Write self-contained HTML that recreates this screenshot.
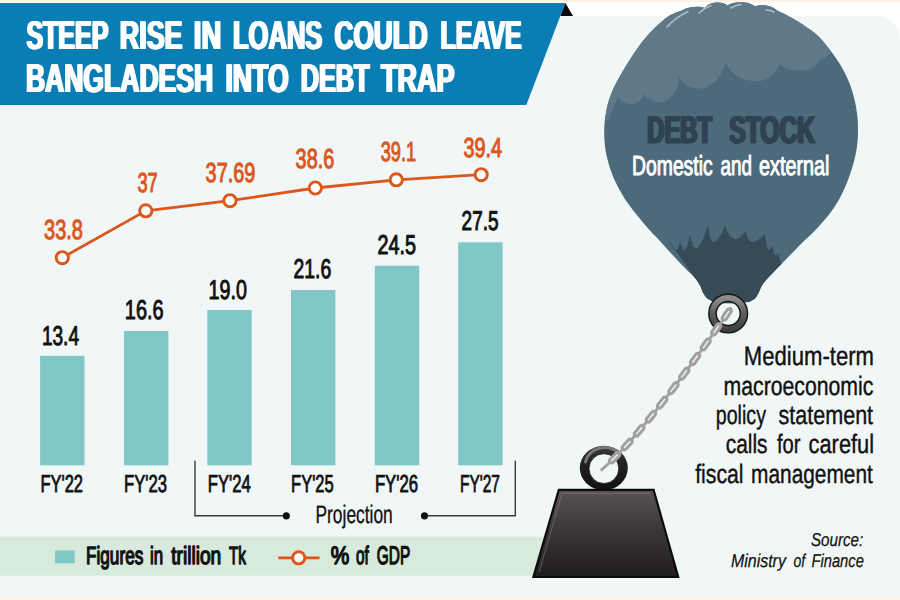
<!DOCTYPE html>
<html lang="en">
<head>
<meta charset="utf-8">
<title>Steep rise in loans could leave Bangladesh into debt trap</title>
<style>
html,body{margin:0;padding:0;background:#fff;}
body{width:900px;height:600px;overflow:hidden;}
svg{display:block;font-family:"Liberation Sans",sans-serif;text-rendering:geometricPrecision;}
</style>
</head>
<body>
<svg width="900" height="600" viewBox="0 0 900 600">
<defs>
<linearGradient id="wg" x1="0" y1="0" x2="0" y2="1">
<stop offset="0" stop-color="#595453"/><stop offset="0.5" stop-color="#393535"/><stop offset="1" stop-color="#201d1d"/>
</linearGradient>
<linearGradient id="tg" x1="0" y1="0" x2="0" y2="1"><stop offset="0" stop-color="#8d8d8d"/><stop offset="0.5" stop-color="#5e5e5e"/><stop offset="1" stop-color="#414141"/></linearGradient>
<linearGradient id="rg" x1="0" y1="0" x2="0" y2="1">
<stop offset="0" stop-color="#3c3a3a"/><stop offset="0.4" stop-color="#222020"/><stop offset="1" stop-color="#121111"/>
</linearGradient>
<filter id="hb" x="-5%" y="-20%" width="110%" height="140%"><feOffset in="SourceGraphic" dx="-1.2" dy="0" result="a"/><feOffset in="SourceGraphic" dx="1.2" dy="0" result="b"/><feMerge><feMergeNode in="a"/><feMergeNode in="b"/><feMergeNode in="SourceGraphic"/></feMerge></filter>
<clipPath id="bc"><path d="M714,302 C712.9,301.4 709.2,299.9 707.5,298.5 C705.8,297.1 704.8,295.7 703.5,293.5 C702.2,291.3 701.5,288.2 700,285.5 C698.5,282.8 697.8,281.2 694.5,277.5 C691.2,273.8 685.8,269.1 680,263 C674.2,256.9 665.1,246.5 660,241 C654.9,235.5 653.6,234.6 649.5,230 C645.4,225.4 639.8,218.9 635.5,213.3 C631.2,207.8 627.0,202.2 623.5,196.7 C620.0,191.1 617.0,185.6 614.5,180 C612.0,174.4 610.1,168.9 608.5,163.3 C606.9,157.8 605.7,152.2 605,146.7 C604.3,141.1 604.1,135.3 604.2,130 C604.3,124.7 604.8,120.0 605.6,115 C606.4,110.0 607.3,105.3 609,100 C610.7,94.7 613.2,88.8 616,83.3 C618.8,77.8 622.1,72.2 625.5,66.7 C628.9,61.2 632.3,55.6 636.3,50 C640.3,44.4 644.3,38.8 649.5,33.3 C654.7,27.8 661.8,21.0 667.5,17 C673.2,13.0 681.2,10.8 684,9.5 C689,6.5 700,6 705,8 C709,1.5 723,1 727.5,5.5 C733,1 750,1 755,6.5 C760,4 772,5 777,10.5 C779.5,11.8 785.7,14.2 792,18 C798.3,21.8 808.7,28.0 815,33.3 C821.3,38.6 825.6,44.4 830,50 C834.4,55.6 838.2,61.2 841.5,66.7 C844.8,72.2 847.3,77.8 849.5,83.3 C851.7,88.8 853.3,94.7 854.6,100 C855.9,105.3 856.6,110.0 857.2,115 C857.8,120.0 858.0,124.7 858,130 C858.0,135.3 857.8,141.1 857,146.7 C856.2,152.2 855.0,157.8 853.5,163.3 C852.0,168.9 850.2,174.4 848,180 C845.8,185.6 843.5,191.1 840.5,196.7 C837.5,202.2 834.2,207.8 830,213.3 C825.8,218.9 820.2,225.1 815.5,230 C810.8,234.9 807.8,237.2 802,243 C796.2,248.8 786.2,259.1 780.5,265 C774.8,270.9 770.6,275.1 767.5,278.5 C764.4,281.9 763.5,283.1 762,285.5 C760.5,287.9 759.7,290.8 758.5,293 C757.3,295.2 756.6,297.0 755,298.5 C753.4,300.0 750.0,301.4 749,302 Q731,305 714,302 Z"/></clipPath>
</defs>

<rect x="0" y="0" width="900" height="600" fill="#ffffff"/>
<rect x="0" y="0" width="900" height="1.9" fill="#fdf1e6"/>
<path d="M0,16 H878 A22,25 0 0 1 900,41 V596.2 H0 Z" fill="#f1f7f7"/>
<rect x="0" y="596.2" width="900" height="3.8" fill="#faf5ed"/>
<rect x="0" y="536.5" width="560" height="39.2" fill="#d7eadb"/>
<polygon points="0,3 565.3,3 526.3,105.1 0,105.1" fill="#0b7db5"/>
<polygon points="565.4,3 573,16 560.4,16" fill="#0a0a0a"/>
<text x="26.38" y="49" font-size="40.2" fill="#ffffff" textLength="81.92" lengthAdjust="spacingAndGlyphs" font-weight="700" filter="url(#hb)">STEEP</text>
<text x="119.76" y="49" font-size="40.2" fill="#ffffff" textLength="62.78" lengthAdjust="spacingAndGlyphs" font-weight="700" filter="url(#hb)">RISE</text>
<text x="193.84" y="49" font-size="40.2" fill="#ffffff" textLength="27.34" lengthAdjust="spacingAndGlyphs" font-weight="700" filter="url(#hb)">IN</text>
<text x="232.93" y="49" font-size="40.2" fill="#ffffff" textLength="89.48" lengthAdjust="spacingAndGlyphs" font-weight="700" filter="url(#hb)">LOANS</text>
<text x="334.45" y="49" font-size="40.2" fill="#ffffff" textLength="93.32" lengthAdjust="spacingAndGlyphs" font-weight="700" filter="url(#hb)">COULD</text>
<text x="440.56" y="49" font-size="40.2" fill="#ffffff" textLength="81.03" lengthAdjust="spacingAndGlyphs" font-weight="700" filter="url(#hb)">LEAVE</text>
<text x="25.88" y="92" font-size="40.2" fill="#ffffff" textLength="187.26" lengthAdjust="spacingAndGlyphs" font-weight="700" filter="url(#hb)">BANGLADESH</text>
<text x="225.47" y="92" font-size="40.2" fill="#ffffff" textLength="63.16" lengthAdjust="spacingAndGlyphs" font-weight="700" filter="url(#hb)">INTO</text>
<text x="300.74" y="92" font-size="40.2" fill="#ffffff" textLength="68.77" lengthAdjust="spacingAndGlyphs" font-weight="700" filter="url(#hb)">DEBT</text>
<text x="381.00" y="92" font-size="40.2" fill="#ffffff" textLength="73.44" lengthAdjust="spacingAndGlyphs" font-weight="700" filter="url(#hb)">TRAP</text>
<rect x="40.1" y="355.8" width="44.4" height="109.5" fill="#80c7c6"/>
<rect x="124.0" y="331" width="44.4" height="134.3" fill="#80c7c6"/>
<rect x="207.3" y="310" width="44.4" height="155.3" fill="#80c7c6"/>
<rect x="291.0" y="290" width="44.4" height="175.3" fill="#80c7c6"/>
<rect x="374.8" y="265.7" width="44.4" height="199.6" fill="#80c7c6"/>
<rect x="458.2" y="242.3" width="44.4" height="223.0" fill="#80c7c6"/>
<text x="41.89" y="344.5" font-size="27.1" fill="#111111" textLength="37.16" lengthAdjust="spacingAndGlyphs" stroke="#111111" stroke-width="1.0" stroke-linejoin="round">13.4</text>
<text x="124.83" y="318.6" font-size="27.1" fill="#111111" textLength="38.75" lengthAdjust="spacingAndGlyphs" stroke="#111111" stroke-width="1.0" stroke-linejoin="round">16.6</text>
<text x="208.55" y="298.6" font-size="27.1" fill="#111111" textLength="38.30" lengthAdjust="spacingAndGlyphs" stroke="#111111" stroke-width="1.0" stroke-linejoin="round">19.0</text>
<text x="293.59" y="277.6" font-size="27.1" fill="#111111" textLength="37.68" lengthAdjust="spacingAndGlyphs" stroke="#111111" stroke-width="1.0" stroke-linejoin="round">21.6</text>
<text x="377.57" y="254.3" font-size="27.1" fill="#111111" textLength="38.41" lengthAdjust="spacingAndGlyphs" stroke="#111111" stroke-width="1.0" stroke-linejoin="round">24.5</text>
<text x="461.60" y="230.3" font-size="27.1" fill="#111111" textLength="36.95" lengthAdjust="spacingAndGlyphs" stroke="#111111" stroke-width="1.0" stroke-linejoin="round">27.5</text>
<text x="40.41" y="492.2" font-size="24.6" fill="#111111" textLength="42.60" lengthAdjust="spacingAndGlyphs" stroke="#111111" stroke-width="0.9" stroke-linejoin="round">FY'22</text>
<text x="124.10" y="492.2" font-size="24.6" fill="#111111" textLength="42.91" lengthAdjust="spacingAndGlyphs" stroke="#111111" stroke-width="0.9" stroke-linejoin="round">FY'23</text>
<text x="207.79" y="492.2" font-size="24.6" fill="#111111" textLength="43.01" lengthAdjust="spacingAndGlyphs" stroke="#111111" stroke-width="0.9" stroke-linejoin="round">FY'24</text>
<text x="291.11" y="492.2" font-size="24.6" fill="#111111" textLength="42.60" lengthAdjust="spacingAndGlyphs" stroke="#111111" stroke-width="0.9" stroke-linejoin="round">FY'25</text>
<text x="374.89" y="492.2" font-size="24.6" fill="#111111" textLength="43.12" lengthAdjust="spacingAndGlyphs" stroke="#111111" stroke-width="0.9" stroke-linejoin="round">FY'26</text>
<text x="459.99" y="492.2" font-size="24.6" fill="#111111" textLength="39.99" lengthAdjust="spacingAndGlyphs" stroke="#111111" stroke-width="0.9" stroke-linejoin="round">FY'27</text>
<polyline fill="none" stroke="#db571c" stroke-width="2.8" points="62.3,257.7 145.8,210.8 230,200.7 315.3,188 396.3,179.8 481.2,174.7"/>
<circle cx="62.3" cy="257.7" r="6.1" fill="#ffffff" stroke="#db571c" stroke-width="2.9"/>
<circle cx="145.8" cy="210.8" r="6.1" fill="#ffffff" stroke="#db571c" stroke-width="2.9"/>
<circle cx="230" cy="200.7" r="6.1" fill="#ffffff" stroke="#db571c" stroke-width="2.9"/>
<circle cx="315.3" cy="188" r="6.1" fill="#ffffff" stroke="#db571c" stroke-width="2.9"/>
<circle cx="396.3" cy="179.8" r="6.1" fill="#ffffff" stroke="#db571c" stroke-width="2.9"/>
<circle cx="481.2" cy="174.7" r="6.1" fill="#ffffff" stroke="#db571c" stroke-width="2.9"/>
<text x="44.02" y="239.0" font-size="27.4" fill="#db571c" textLength="38.90" lengthAdjust="spacingAndGlyphs" stroke="#db571c" stroke-width="1.1" stroke-linejoin="round">33.8</text>
<text x="137.38" y="192.3" font-size="27.4" fill="#db571c" textLength="20.40" lengthAdjust="spacingAndGlyphs" stroke="#db571c" stroke-width="1.1" stroke-linejoin="round">37</text>
<text x="205.62" y="181.5" font-size="27.4" fill="#db571c" textLength="49.72" lengthAdjust="spacingAndGlyphs" stroke="#db571c" stroke-width="1.1" stroke-linejoin="round">37.69</text>
<text x="295.62" y="168.10000000000002" font-size="27.4" fill="#db571c" textLength="38.70" lengthAdjust="spacingAndGlyphs" stroke="#db571c" stroke-width="1.1" stroke-linejoin="round">38.6</text>
<text x="380.69" y="160.60000000000002" font-size="27.4" fill="#db571c" textLength="35.38" lengthAdjust="spacingAndGlyphs" stroke="#db571c" stroke-width="1.1" stroke-linejoin="round">39.1</text>
<text x="463.53" y="156.5" font-size="27.4" fill="#db571c" textLength="38.59" lengthAdjust="spacingAndGlyphs" stroke="#db571c" stroke-width="1.1" stroke-linejoin="round">39.4</text>
<path d="M195,460.8 V515.8 H286" fill="none" stroke="#3a3a3a" stroke-width="1.4"/>
<path d="M515.3,460.8 V515.8 H424.5" fill="none" stroke="#3a3a3a" stroke-width="1.4"/>
<circle cx="286.3" cy="515.8" r="3.6" fill="#111"/><circle cx="424.5" cy="515.8" r="3.6" fill="#111"/>
<text x="315.50" y="522.8" font-size="25.2" fill="#111111" textLength="77.22" lengthAdjust="spacingAndGlyphs" stroke="#111111" stroke-width="0.35" stroke-linejoin="round">Projection</text>
<rect x="55" y="550.5" width="19.7" height="12.8" fill="#80c7c6"/>
<text x="86.01" y="564.3" font-size="24.8" fill="#111111" textLength="57.26" lengthAdjust="spacingAndGlyphs" stroke="#111111" stroke-width="1.4" stroke-linejoin="round">Figures</text>
<text x="150.02" y="564.3" font-size="24.8" fill="#111111" textLength="13.12" lengthAdjust="spacingAndGlyphs" stroke="#111111" stroke-width="1.4" stroke-linejoin="round">in</text>
<text x="171.20" y="564.3" font-size="24.8" fill="#111111" textLength="50.01" lengthAdjust="spacingAndGlyphs" stroke="#111111" stroke-width="1.4" stroke-linejoin="round">trillion</text>
<text x="229.00" y="564.3" font-size="24.8" fill="#111111" textLength="16.93" lengthAdjust="spacingAndGlyphs" stroke="#111111" stroke-width="1.4" stroke-linejoin="round">Tk</text>
<line x1="278.3" y1="557.8" x2="319.5" y2="557.8" stroke="#db571c" stroke-width="2.8"/>
<circle cx="298.7" cy="557.8" r="6.1" fill="#fff" stroke="#db571c" stroke-width="2.9"/>
<text x="330.70" y="564.3" font-size="25.4" fill="#111111" textLength="18.57" lengthAdjust="spacingAndGlyphs" stroke="#111111" stroke-width="1.4" stroke-linejoin="round">%</text>
<text x="355.89" y="564.3" font-size="25.4" fill="#111111" textLength="12.83" lengthAdjust="spacingAndGlyphs" stroke="#111111" stroke-width="1.4" stroke-linejoin="round">of</text>
<text x="376.79" y="564.3" font-size="25.4" fill="#111111" textLength="33.37" lengthAdjust="spacingAndGlyphs" stroke="#111111" stroke-width="1.4" stroke-linejoin="round">GDP</text>
<g clip-path="url(#bc)">
<rect x="590" y="0" width="280" height="310" fill="#4d6a7a"/>
<path d="M590,0 H870 V51 L831,51 C828,58 823,60 820,59 C817,68 808,72 801,70.5 C795,71 784,70 780,64 C776,76 764,82 755,81 C742,81 730,74 725.5,62 C722,78 710,89 699,88.5 C690,88.5 681,83 678.5,75 C679,82 678,88 675.5,90 C673,98 666,102 660,102 C654,102 647,99 644.5,93.5 C642,101 636,104.5 630,104 C625,104 620,101 618,96.5 C615,105 611,112 608,120 L590,125 Z" fill="#607989"/>
<path d="M669,241 Q677.5,259.0 680,241 Q685.0,262.5 690,234 Q695.0,266.5 708,225 Q711.5,258.7 725,225.6 Q732.5,249.7 746,231 Q748.5,251.5 765,234 Q767.5,258.5 772,245 Q775.0,261.0 778,253 Q780,260 782,264 L792,262 L763,290 L757,302 L707,302 L694,277 Z" fill="#364a58"/>
<path d="M667,27 Q676,17 688,11.5" fill="none" stroke="#aebcc6" stroke-width="1.5" stroke-linecap="round"/>
<path d="M699,13 Q704,8 711,5.5" fill="none" stroke="#aebcc6" stroke-width="1.5" stroke-linecap="round"/>
<path d="M731,8 Q736,5 741,4.5" fill="none" stroke="#aebcc6" stroke-width="1.5" stroke-linecap="round"/>
<path d="M766,10 Q770,10 774,12" fill="none" stroke="#aebcc6" stroke-width="1.5" stroke-linecap="round"/>
</g>
<text x="647.26" y="142.7" font-size="38.3" fill="#2e4352" textLength="64.79" lengthAdjust="spacingAndGlyphs" font-weight="700" filter="url(#hb)" stroke="#2e4352" stroke-width="0.6" stroke-linejoin="round">DEBT</text>
<text x="729.36" y="142.7" font-size="38.3" fill="#2e4352" textLength="85.62" lengthAdjust="spacingAndGlyphs" font-weight="700" filter="url(#hb)" stroke="#2e4352" stroke-width="0.6" stroke-linejoin="round">STOCK</text>
<text x="632.09" y="175.2" font-size="27.5" fill="#ffffff" textLength="80.53" lengthAdjust="spacingAndGlyphs" stroke="#ffffff" stroke-width="1.0" stroke-linejoin="round">Domestic</text>
<text x="720.61" y="175.2" font-size="27.5" fill="#ffffff" textLength="31.47" lengthAdjust="spacingAndGlyphs" stroke="#ffffff" stroke-width="1.0" stroke-linejoin="round">and</text>
<text x="758.98" y="175.2" font-size="27.5" fill="#ffffff" textLength="70.52" lengthAdjust="spacingAndGlyphs" stroke="#ffffff" stroke-width="1.0" stroke-linejoin="round">external</text>
<circle cx="728.2" cy="313.5" r="15.7" fill="none" stroke="#161616" stroke-width="8.8"/>
<circle cx="728.2" cy="313.5" r="15.7" fill="none" stroke="url(#tg)" stroke-width="5.8"/>
<ellipse cx="603.8" cy="468" rx="24" ry="22.2" fill="url(#rg)"/>
<path d="M585.5,462 A19.5,18 0 0 1 619,453.5" fill="none" stroke="#8a8787" stroke-width="3" stroke-linecap="round" opacity="0.8"/>
<circle cx="603.9" cy="468.6" r="14.9" fill="#f1f7f7" stroke="#0e0e0e" stroke-width="0.8"/>
<path d="M731.5,307.5 Q645,433 600.8,470.5" fill="none" stroke="#a3a09e" stroke-width="3"/>
<rect x="-6.2" y="-2.2" width="12.4" height="4.4" rx="2.2" ry="2.2" fill="#f1f7f7" stroke="#a3a09e" stroke-width="3.0" transform="translate(726.7,314.5) rotate(124.7)"/>
<rect x="-6.2" y="-2.2" width="12.4" height="4.4" rx="2.2" ry="2.2" fill="#f1f7f7" stroke="#a3a09e" stroke-width="3.0" transform="translate(716.2,329.4) rotate(125.1)"/>
<rect x="-6.2" y="-2.2" width="12.4" height="4.4" rx="2.2" ry="2.2" fill="#f1f7f7" stroke="#a3a09e" stroke-width="3.0" transform="translate(705.7,344.3) rotate(125.5)"/>
<rect x="-6.2" y="-2.2" width="12.4" height="4.4" rx="2.2" ry="2.2" fill="#f1f7f7" stroke="#a3a09e" stroke-width="3.0" transform="translate(695.1,359.0) rotate(126.1)"/>
<rect x="-6.2" y="-2.2" width="12.4" height="4.4" rx="2.2" ry="2.2" fill="#f1f7f7" stroke="#a3a09e" stroke-width="3.0" transform="translate(684.3,373.7) rotate(126.6)"/>
<rect x="-6.2" y="-2.2" width="12.4" height="4.4" rx="2.2" ry="2.2" fill="#f1f7f7" stroke="#a3a09e" stroke-width="3.0" transform="translate(673.4,388.2) rotate(127.3)"/>
<rect x="-6.2" y="-2.2" width="12.4" height="4.4" rx="2.2" ry="2.2" fill="#f1f7f7" stroke="#a3a09e" stroke-width="3.0" transform="translate(662.2,402.6) rotate(128.1)"/>
<rect x="-6.2" y="-2.2" width="12.4" height="4.4" rx="2.2" ry="2.2" fill="#f1f7f7" stroke="#a3a09e" stroke-width="3.0" transform="translate(650.9,416.8) rotate(129.2)"/>
<rect x="-6.2" y="-2.2" width="12.4" height="4.4" rx="2.2" ry="2.2" fill="#f1f7f7" stroke="#a3a09e" stroke-width="3.0" transform="translate(639.2,430.8) rotate(130.5)"/>
<rect x="-6.2" y="-2.2" width="12.4" height="4.4" rx="2.2" ry="2.2" fill="#f1f7f7" stroke="#a3a09e" stroke-width="3.0" transform="translate(627.2,444.5) rotate(132.4)"/>
<rect x="-6.2" y="-2.2" width="12.4" height="4.4" rx="2.2" ry="2.2" fill="#f1f7f7" stroke="#a3a09e" stroke-width="3.0" transform="translate(614.6,457.7) rotate(135.0)"/>
<polygon points="558.8,489.8 653.6,489.8 678.2,577 533.4,577" fill="url(#wg)" stroke="#0c0c0c" stroke-width="2.2" stroke-linejoin="miter"/>
<path d="M539,572 L562,493.5 H650" fill="none" stroke="#9a9696" stroke-width="1.1" opacity="0.4"/>
<text x="743.84" y="365.3" font-size="26.6" fill="#111111" textLength="130.22" lengthAdjust="spacingAndGlyphs" stroke="#111111" stroke-width="0.4" stroke-linejoin="round">Medium-term</text>
<text x="723.60" y="394.6" font-size="26.6" fill="#111111" textLength="149.73" lengthAdjust="spacingAndGlyphs" stroke="#111111" stroke-width="0.4" stroke-linejoin="round">macroeconomic</text>
<text x="715.76" y="424" font-size="26.6" fill="#111111" textLength="50.22" lengthAdjust="spacingAndGlyphs" stroke="#111111" stroke-width="0.4" stroke-linejoin="round">policy</text>
<text x="778.50" y="424" font-size="26.6" fill="#111111" textLength="94.60" lengthAdjust="spacingAndGlyphs" stroke="#111111" stroke-width="0.4" stroke-linejoin="round">statement</text>
<text x="725.71" y="453" font-size="26.6" fill="#111111" textLength="41.82" lengthAdjust="spacingAndGlyphs" stroke="#111111" stroke-width="0.4" stroke-linejoin="round">calls</text>
<text x="776.90" y="453" font-size="26.6" fill="#111111" textLength="23.59" lengthAdjust="spacingAndGlyphs" stroke="#111111" stroke-width="0.4" stroke-linejoin="round">for</text>
<text x="808.58" y="453" font-size="26.6" fill="#111111" textLength="65.47" lengthAdjust="spacingAndGlyphs" stroke="#111111" stroke-width="0.4" stroke-linejoin="round">careful</text>
<text x="695.20" y="482.5" font-size="26.6" fill="#111111" textLength="48.32" lengthAdjust="spacingAndGlyphs" stroke="#111111" stroke-width="0.4" stroke-linejoin="round">fiscal</text>
<text x="751.12" y="482.5" font-size="26.6" fill="#111111" textLength="121.70" lengthAdjust="spacingAndGlyphs" stroke="#111111" stroke-width="0.4" stroke-linejoin="round">management</text>
<text x="810.92" y="545.8" font-size="18.6" fill="#111111" textLength="52.39" lengthAdjust="spacingAndGlyphs" font-style="italic" stroke="#111111" stroke-width="0.25" stroke-linejoin="round">Source:</text>
<text x="730.92" y="566.7" font-size="18.6" fill="#111111" textLength="54.99" lengthAdjust="spacingAndGlyphs" font-style="italic" stroke="#111111" stroke-width="0.25" stroke-linejoin="round">Ministry</text>
<text x="793.42" y="566.7" font-size="18.6" fill="#111111" textLength="11.76" lengthAdjust="spacingAndGlyphs" font-style="italic" stroke="#111111" stroke-width="0.25" stroke-linejoin="round">of</text>
<text x="811.42" y="566.7" font-size="18.6" fill="#111111" textLength="52.42" lengthAdjust="spacingAndGlyphs" font-style="italic" stroke="#111111" stroke-width="0.25" stroke-linejoin="round">Finance</text>
</svg>
</body>
</html>
